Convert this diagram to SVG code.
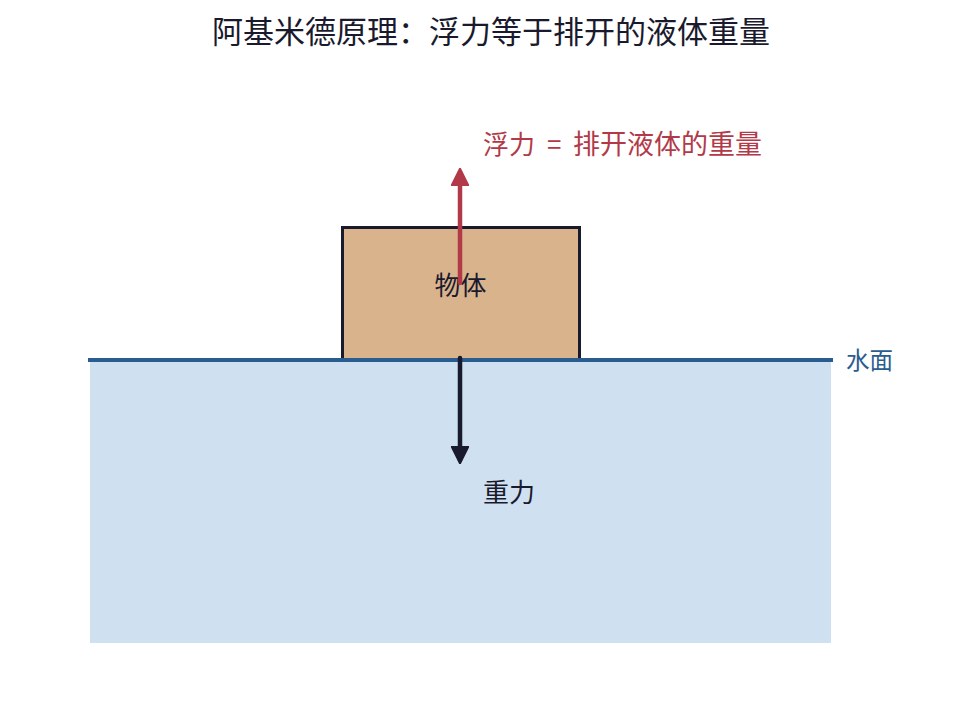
<svg xmlns="http://www.w3.org/2000/svg" width="980" height="703" viewBox="0 0 980 703">
<style>
text{font-family:"Noto Sans CJK SC","Noto Sans",sans-serif;}
.title{font-size:31px;fill:#1a1a2e;text-anchor:middle;}
.lbl{font-size:26px;}
</style>
<defs>
<marker id="ahR" viewBox="0 0 10 10" refX="8" refY="5" markerWidth="4" markerHeight="4" orient="auto"><path d="M0,0 L10,5 L0,10 Z" fill="#b23a48" stroke="#b23a48" stroke-linejoin="round"/></marker>
<marker id="ahK" viewBox="0 0 10 10" refX="8" refY="5" markerWidth="4" markerHeight="4" orient="auto"><path d="M0,0 L10,5 L0,10 Z" fill="#1a1a2e" stroke="#1a1a2e" stroke-linejoin="round"/></marker>
</defs>
<rect width="980" height="703" fill="#ffffff"/>
<text class="title" x="491" y="43">阿基米德原理：浮力等于排开的液体重量</text>
<g id="water">
<rect x="90" y="360" width="741" height="283" fill="#cfe0f0"/>
</g>
<g id="object">
<rect x="342.5" y="227.5" width="237" height="133" fill="#d9b38c" stroke="#1a1a2e" stroke-width="3"/>
<text class="lbl" x="460.5" y="295" text-anchor="middle" fill="#1a1a2e">物体</text>
</g>
<g id="surface">
<line x1="88" y1="360" x2="833" y2="360" stroke="#2a5d8f" stroke-width="4"/>
<text x="846" y="369" fill="#2a5d8f" style="font-size:23.5px">水面</text>
</g>
<g id="connectors">
<line x1="460" y1="283" x2="460" y2="172" stroke="#b23a48" stroke-width="4.5" stroke-linecap="round" marker-end="url(#ahR)"/>
<line x1="460" y1="358" x2="460" y2="460" stroke="#1a1a2e" stroke-width="4.5" stroke-linecap="round" marker-end="url(#ahK)"/>
</g>
<g id="labels">
<text class="lbl" x="483" y="154" fill="#b23a48"><tspan>浮力</tspan><tspan x="547">=</tspan><tspan x="573" style="font-size:27px">排开液体的重量</tspan></text>
<text class="lbl" x="483" y="502" fill="#1a1a2e">重力</text>
</g>
</svg>
